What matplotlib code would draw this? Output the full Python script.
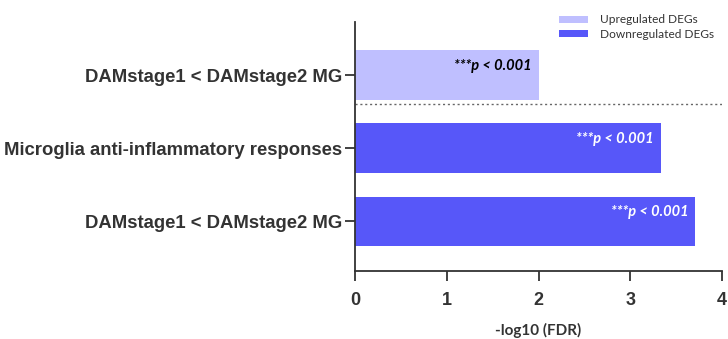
import matplotlib
matplotlib.use("Agg")
import matplotlib.pyplot as plt
from matplotlib.patches import Patch

categories = ["DAMstage1 < DAMstage2 MG", "Microglia anti-inflammatory responses", "DAMstage1 < DAMstage2 MG"]
values = [3.71, 3.33, 2.00]          # -log10(FDR), bottom to top
groups = ["Downregulated DEGs", "Downregulated DEGs", "Upregulated DEGs"]
annotations = ["***p < 0.001", "***p < 0.001", "***p < 0.001"]
xticks = [0, 1, 2, 3, 4]

colors = {"Upregulated DEGs": "#BFBFFF", "Downregulated DEGs": "#5757F9"}
text_colors = {"Upregulated DEGs": "black", "Downregulated DEGs": "white"}
dark = "#333333"

fig = plt.figure(figsize=(7.28, 3.39), dpi=100)
ax = fig.add_axes([355/728, 1-271/339, (722-355)/728, (271-22)/339])

ypos = list(range(len(values)))
for y, v, g, a in zip(ypos, values, groups, annotations):
    ax.barh(y, v, height=0.68, color=colors[g], edgecolor="none")
    ax.text(v - 0.07, y + 0.13, a, ha="right", va="center", fontsize=10.5,
            fontweight="bold", fontstyle="italic", family="Lato", color=text_colors[g])

ax.axhline(1.61, color="#666666", lw=1, ls=(0, (1.5, 2)))

ax.set_xlim(0, 4)
ax.set_ylim(-0.68, 2.73)
ax.set_xticks(xticks)
ax.set_xticklabels([str(t) for t in xticks], fontsize=13, fontweight="bold",
                   family=["Liberation Sans", "DejaVu Sans"], color=dark)
ax.set_yticks(ypos)
ax.set_yticklabels(categories, fontsize=13.3, fontweight="bold",
                   family=["Liberation Sans", "DejaVu Sans"], color=dark)
ax.tick_params(axis="both", direction="out", length=7, width=1.3, color=dark, pad=2)
ax.tick_params(axis="x", pad=8)
for s in ["top", "right"]:
    ax.spines[s].set_visible(False)
for s in ["left", "bottom"]:
    ax.spines[s].set_color(dark)
    ax.spines[s].set_linewidth(1.3)

ax.set_xlabel("-log10 (FDR)", fontsize=11, fontweight="bold", family="Lato",
              color=dark, labelpad=10)

handles = [Patch(facecolor=colors["Upregulated DEGs"], label="Upregulated DEGs"),
           Patch(facecolor=colors["Downregulated DEGs"], label="Downregulated DEGs")]
leg = fig.legend(handles=handles, loc="upper left", bbox_to_anchor=(551/728, 1 - 6/339),
                 frameon=False, prop={"family": "Lato", "size": 8.6},
                 handlelength=2.4, handleheight=0.5, handletextpad=1.0,
                 labelspacing=0.3, borderaxespad=0.3)
for t in leg.get_texts():
    t.set_color(dark)

fig.savefig("out.png", dpi=100)
